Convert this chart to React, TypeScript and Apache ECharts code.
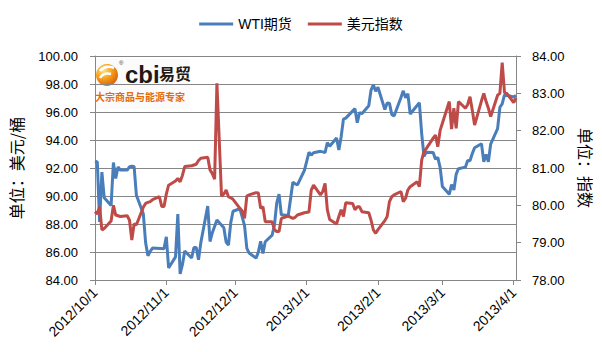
import React, { useEffect, useRef } from "react";
import * as echarts from "echarts";

// ---------- data ----------
const startDate = "2012-10-01";
const dayCount = 184; // 2012-10-01 .. 2013-04-02

const wtiDates = [
  "2012-10-01","2012-10-02","2012-10-03","2012-10-04","2012-10-05","2012-10-08","2012-10-09","2012-10-10","2012-10-11","2012-10-12",
  "2012-10-15","2012-10-16","2012-10-17","2012-10-18","2012-10-19","2012-10-22","2012-10-23","2012-10-24","2012-10-25","2012-10-26",
  "2012-10-31","2012-11-01","2012-11-02","2012-11-05","2012-11-06","2012-11-07","2012-11-08","2012-11-09","2012-11-12","2012-11-13",
  "2012-11-14","2012-11-15","2012-11-16","2012-11-19","2012-11-20","2012-11-21","2012-11-23","2012-11-26","2012-11-27","2012-11-28",
  "2012-11-29","2012-11-30","2012-12-03","2012-12-04","2012-12-05","2012-12-06","2012-12-07","2012-12-10","2012-12-11","2012-12-12",
  "2012-12-13","2012-12-14","2012-12-17","2012-12-18","2012-12-19","2012-12-20","2012-12-21","2012-12-24","2012-12-26","2012-12-27",
  "2012-12-28","2012-12-31","2013-01-02","2013-01-03","2013-01-04","2013-01-07","2013-01-08","2013-01-09","2013-01-10","2013-01-11",
  "2013-01-14","2013-01-15","2013-01-16","2013-01-17","2013-01-18","2013-01-22","2013-01-23","2013-01-24","2013-01-25","2013-01-28",
  "2013-01-29","2013-01-30","2013-01-31","2013-02-01","2013-02-04","2013-02-05","2013-02-06","2013-02-07","2013-02-08","2013-02-11",
  "2013-02-12","2013-02-13","2013-02-14","2013-02-15","2013-02-19","2013-02-20","2013-02-21","2013-02-22","2013-02-25","2013-02-26",
  "2013-02-27","2013-02-28","2013-03-01","2013-03-04","2013-03-05","2013-03-06","2013-03-07","2013-03-08","2013-03-11","2013-03-12",
  "2013-03-13","2013-03-14","2013-03-15","2013-03-18","2013-03-19","2013-03-20","2013-03-21","2013-03-22","2013-03-25","2013-03-26",
  "2013-03-27","2013-03-28","2013-04-01","2013-04-02",
];
const wtiValues = [
  92.48, 92.44, 88.14, 91.71, 89.88, 89.33, 92.39, 91.25, 92.07, 91.86,
  91.85, 92.09, 92.12, 92.10, 90.05, 88.73, 86.67, 85.73, 86.05, 86.28,
  86.24, 87.09, 84.86, 85.65, 88.71, 84.44, 85.09, 86.07, 85.57, 86.32,
  86.32, 85.45, 86.67, 89.28, 86.75, 87.38, 88.28, 87.74, 86.71, 86.49,
  88.07, 88.91, 89.09, 88.49, 87.88, 86.26, 85.93, 85.56, 85.99, 86.77,
  85.89, 86.73, 87.20, 87.93, 89.51, 90.13, 88.66, 88.61, 90.98, 90.87,
  90.80, 91.82, 93.12, 92.92, 93.09, 93.19, 93.15, 93.10, 93.82, 93.56,
  94.14, 93.28, 94.24, 95.49, 95.56, 96.24, 95.23, 95.95, 95.88, 96.44,
  97.57, 97.94, 97.49, 97.77, 96.17, 96.64, 96.62, 95.83, 95.72, 97.03,
  97.51, 97.01, 97.31, 95.86, 96.66, 94.46, 92.84, 93.13, 93.11, 92.63,
  92.76, 92.05, 90.68, 90.12, 90.82, 90.43, 91.56, 91.95, 92.06, 92.54,
  92.52, 93.03, 93.45, 93.73, 92.44, 92.96, 92.45, 93.71, 94.81, 96.34,
  96.58, 97.23, 97.07, 97.19,
];

const usdDates = [
  "2012-10-01","2012-10-02","2012-10-03","2012-10-04","2012-10-05","2012-10-08","2012-10-09","2012-10-10","2012-10-11","2012-10-12",
  "2012-10-15","2012-10-16","2012-10-17","2012-10-18","2012-10-19","2012-10-22","2012-10-23","2012-10-24","2012-10-25","2012-10-26",
  "2012-10-29","2012-10-30","2012-10-31","2012-11-01","2012-11-02","2012-11-05","2012-11-06","2012-11-07","2012-11-08","2012-11-09",
  "2012-11-12","2012-11-13","2012-11-14","2012-11-15","2012-11-16","2012-11-19","2012-11-20","2012-11-21","2012-11-22","2012-11-23",
  "2012-11-25","2012-11-26","2012-11-27","2012-11-28","2012-11-29","2012-11-30","2012-12-03","2012-12-04","2012-12-05","2012-12-06",
  "2012-12-07","2012-12-10","2012-12-11","2012-12-12","2012-12-13","2012-12-14","2012-12-17","2012-12-18","2012-12-19","2012-12-20",
  "2012-12-21","2012-12-24","2012-12-26","2012-12-27","2012-12-28","2012-12-31","2013-01-02","2013-01-03","2013-01-04","2013-01-07",
  "2013-01-08","2013-01-09","2013-01-10","2013-01-11","2013-01-14","2013-01-15","2013-01-16","2013-01-17","2013-01-18","2013-01-21",
  "2013-01-22","2013-01-23","2013-01-24","2013-01-25","2013-01-28","2013-01-29","2013-01-30","2013-01-31","2013-02-01","2013-02-04",
  "2013-02-05","2013-02-06","2013-02-07","2013-02-08","2013-02-11","2013-02-12","2013-02-13","2013-02-14","2013-02-15","2013-02-18",
  "2013-02-19","2013-02-20","2013-02-21","2013-02-22","2013-02-25","2013-02-26","2013-02-27","2013-02-28","2013-03-01","2013-03-04",
  "2013-03-05","2013-03-06","2013-03-07","2013-03-08","2013-03-11","2013-03-12","2013-03-13","2013-03-14","2013-03-15","2013-03-18",
  "2013-03-19","2013-03-20","2013-03-21","2013-03-22","2013-03-25","2013-03-26","2013-03-27","2013-03-28","2013-03-29","2013-04-01",
  "2013-04-02",
];
const usdValues = [
  79.83, 79.77, 79.96, 79.34, 79.38, 79.58, 80.00, 79.74, 79.72, 79.70,
  79.72, 79.60, 79.07, 79.50, 79.48, 79.95, 80.05, 80.08, 80.10, 80.15,
  80.23, 79.97, 79.97, 80.30, 80.54, 80.65, 80.72, 80.63, 80.80, 81.04,
  81.06, 81.08, 81.10, 81.20, 81.26, 81.29, 80.95, 80.85, 80.70, 83.27,
  80.25, 80.30, 80.41, 80.23, 80.20, 80.16, 79.92, 79.85, 79.65, 80.25,
  80.28, 80.34, 80.33, 79.92, 79.96, 79.56, 79.56, 79.35, 79.30, 79.30,
  79.65, 79.71, 79.65, 79.68, 79.74, 79.80, 79.82, 80.41, 80.54, 80.28,
  80.37, 80.59, 79.88, 79.62, 79.50, 79.70, 79.88, 79.70, 80.07, 80.05,
  79.88, 79.96, 79.96, 79.83, 79.80, 79.60, 79.34, 79.25, 79.35, 79.59,
  79.70, 80.10, 80.23, 80.28, 80.37, 80.10, 80.19, 80.41, 80.50, 80.63,
  80.50, 81.21, 81.44, 81.52, 81.80, 81.88, 81.57, 82.00, 82.20, 82.78,
  82.04, 82.60, 82.06, 82.78, 82.60, 82.70, 82.91, 82.55, 82.15, 82.80,
  83.00, 82.78, 82.60, 82.38, 82.95, 83.00, 83.82, 83.02, 83.00, 82.75,
  82.88,
];

const seriesNames = ["WTI期货", "美元指数"];
const leftAxisName = "单位：美元/桶";
const rightAxisName = "单位：指数";
const logoTitle = "cbi";
const logoCn = "易贸";
const logoSlogan = "大宗商品与能源专家";

// ---------- helpers ----------
function addDays(iso: string, n: number): string {
  const d = new Date(iso + "T00:00:00Z");
  d.setUTCDate(d.getUTCDate() + n);
  return d.toISOString().slice(0, 10);
}
const categories = Array.from({ length: dayCount }, (_, i) => addDays(startDate, i));
function alignTo(dates: string[], values: number[]) {
  const m = new Map<string, number>();
  dates.forEach((d, i) => m.set(d, values[i]));
  return categories.map((c) => (m.has(c) ? (m.get(c) as number) : null));
}
const isMonthStart = (_i: number, v: string) => v.endsWith("-01");
const fmtDate = (v: string) => {
  const [y, m, d] = v.split("-");
  return `${y}/${+m}/${+d}`;
};

const AXIS = "#868686";
const LATIN = "'Liberation Sans', 'Noto Sans CJK SC', sans-serif";
const CJK = "'Noto Sans CJK SC', sans-serif";

export default function App() {
  const ref = useRef<HTMLDivElement>(null);
  useEffect(() => {
    document.body.style.margin = "0";
    const chart = echarts.init(ref.current as HTMLDivElement, null, { renderer: "svg" });
    const option: any = {
      animation: false,
      backgroundColor: "#ffffff",
      legend: {
        data: seriesNames,
        top: 12,
        left: "center",
        icon: "rect",
        itemWidth: 34,
        itemHeight: 3,
        itemGap: 16,
        textStyle: { fontSize: 14, color: "#000", fontFamily: LATIN },
      },
      grid: { left: 93, right: 86, top: 56, bottom: 72, containLabel: false },
      xAxis: {
        type: "category",
        boundaryGap: false,
        data: categories,
        axisLine: { lineStyle: { color: AXIS, width: 1 } },
        axisTick: { show: true, interval: isMonthStart, length: 5, lineStyle: { color: AXIS } },
        axisLabel: {
          interval: isMonthStart,
          rotate: 45,
          formatter: fmtDate,
          color: "#000",
          fontSize: 14,
          fontFamily: LATIN,
          margin: 10,
        },
        splitLine: { show: false },
      },
      yAxis: [
        {
          type: "value",
          position: "left",
          min: 84,
          max: 100,
          interval: 2,
          axisLine: { show: true, lineStyle: { color: AXIS } },
          axisTick: { show: true, length: 5, lineStyle: { color: AXIS } },
          axisLabel: {
            formatter: (v: number) => v.toFixed(2),
            color: "#000",
            fontSize: 13,
            fontFamily: LATIN,
            margin: 17,
          },
          splitLine: { show: true, lineStyle: { color: AXIS, width: 1 } },
          name: leftAxisName,
          nameLocation: "middle",
          nameGap: 71,
          nameTextStyle: { fontSize: 16, color: "#000", fontFamily: CJK },
        },
        {
          type: "value",
          position: "right",
          min: 78,
          max: 84,
          interval: 1,
          axisLine: { show: true, lineStyle: { color: AXIS } },
          axisTick: { show: true, length: 5, lineStyle: { color: AXIS } },
          axisLabel: {
            formatter: (v: number) => v.toFixed(2),
            color: "#000",
            fontSize: 13,
            fontFamily: LATIN,
            margin: 16,
          },
          splitLine: { show: false },
          name: rightAxisName,
          nameLocation: "middle",
          nameRotate: -90,
          nameGap: 62,
          nameTextStyle: { fontSize: 16, color: "#000", fontFamily: CJK },
        },
      ],
      series: [
        {
          name: seriesNames[0],
          type: "line",
          yAxisIndex: 0,
          data: alignTo(wtiDates, wtiValues),
          connectNulls: true,
          symbol: "none",
          color: "#4A7EBB",
          lineStyle: { width: 3, color: "#4A7EBB" },
        },
        {
          name: seriesNames[1],
          type: "line",
          yAxisIndex: 1,
          data: alignTo(usdDates, usdValues),
          connectNulls: true,
          symbol: "none",
          color: "#BE4B48",
          lineStyle: { width: 3, color: "#BE4B48" },
        },
      ],
      graphic: [
        {
          type: "group",
          x: 95,
          y: 59,
          z: 100,
          children: [
            { type: "rect", shape: { x: 0, y: 0, width: 95, height: 50 }, style: { fill: "#fbfbfb" } },
            {
              type: "circle",
              shape: { cx: 12, cy: 16, r: 11 },
              style: {
                fill: new echarts.graphic.RadialGradient(0.35, 0.3, 0.75, [
                  { offset: 0, color: "#ffe17a" },
                  { offset: 0.5, color: "#f7a01c" },
                  { offset: 1, color: "#d9600a" },
                ]),
              },
            },
            {
              type: "bezierCurve",
              shape: { x1: 5, y1: 12, x2: 19, y2: 9, cpx1: 9, cpy1: 7, cpx2: 15, cpy2: 7 },
              style: { stroke: "#ffffff", lineWidth: 2.6, fill: "none" },
            },
            {
              type: "bezierCurve",
              shape: { x1: 5, y1: 19, x2: 16, y2: 15, cpx1: 8, cpy1: 14, cpx2: 12, cpy2: 14 },
              style: { stroke: "#ffffff", lineWidth: 2.4, fill: "none" },
            },
            { type: "text", x: 24, y: 1, style: { text: "®", fontSize: 6, fill: "#333", fontFamily: LATIN } },
            {
              type: "text",
              x: 30,
              y: 3,
              style: { text: logoTitle, fontSize: 24, fontWeight: "bold", fill: "#231815", fontFamily: LATIN },
            },
            {
              type: "text",
              x: 64,
              y: 6,
              style: { text: logoCn, fontSize: 16, fontWeight: "bold", fill: "#231815", fontFamily: CJK },
            },
            {
              type: "text",
              x: 0,
              y: 32,
              style: { text: logoSlogan, fontSize: 10, fontWeight: "bold", fill: "#e46c0a", fontFamily: CJK },
            },
          ],
        },
      ],
    };
    chart.setOption(option);
    return () => chart.dispose();
  }, []);
  return <div ref={ref} style={{ position: "fixed", left: 0, top: 0, width: 602, height: 352 }} />;
}
